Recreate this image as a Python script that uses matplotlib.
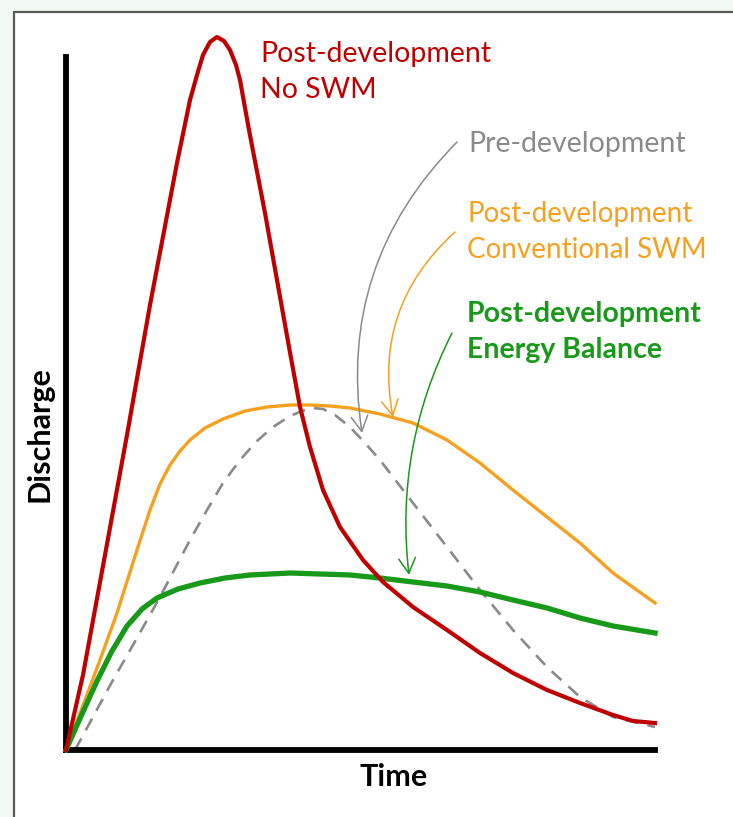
import matplotlib
matplotlib.use("Agg")
import matplotlib.pyplot as plt
from matplotlib.patches import Rectangle

# conceptual hydrograph, arbitrary units
red_t = [0, 17, 39, 61, 84, 111, 124, 131, 137, 144, 151, 158, 164, 170, 174, 183, 199, 211,
         223, 234, 244, 257, 274, 297, 317, 347, 381, 414, 447, 481, 514, 547, 567, 589]
red_q = [0, 75, 195, 315, 445, 587, 650, 675, 695, 708, 713, 709, 700, 685, 670, 620, 537, 470,
         403, 343, 303, 260, 223, 190, 168, 143, 120, 97, 77, 60, 47, 35, 29, 27]

orange_t = [0, 19, 34, 51, 71, 84, 94, 104, 114, 124, 139, 157, 179, 201, 224, 244, 264, 284,
            314, 347, 381, 414, 447, 481, 514, 547, 589]
orange_q = [0, 50, 90, 137, 200, 240, 266, 285, 299, 310, 322, 331, 339, 343, 345, 345, 344, 342,
            336, 327, 310, 287, 260, 233, 207, 177, 147]

green_t = [0, 16, 31, 46, 61, 76, 91, 112, 134, 159, 184, 224, 254, 284, 314, 347, 381, 414,
           447, 481, 514, 547, 589]
green_q = [0, 36, 69, 99, 124, 141, 152, 161, 167, 172, 175, 177, 176, 175, 172, 168, 164, 158,
           150, 142, 132, 124, 117]

pre_t = [9, 28, 47, 71, 94, 124, 141, 157, 174, 191, 207, 224, 236, 247, 257, 269, 284, 299,
         314, 347, 381, 414, 447, 481, 514, 547, 581, 589]
pre_q = [0, 35, 70, 112, 153, 210, 240, 267, 290, 309, 323, 334, 339, 342, 341, 335, 323, 307,
         290, 247, 203, 160, 120, 83, 53, 33, 25, 23]

RED = "#C00000"
ORANGE = "#F5A01E"
GREEN = "#18991A"
GREY = "#8A8A8A"

W, H = 733, 817
fig = plt.figure(figsize=(W / 100, H / 100), dpi=100, facecolor="#F2F8F2")

# white panel with a thin grey frame
fig.patches.append(Rectangle((14 / W, -0.05), 1.2, 1.05 - 12 / H, transform=fig.transFigure,
                             facecolor="white", edgecolor="#5A5A5A", linewidth=1.6, zorder=-5))

ax = fig.add_axes([66 / W, 1 - 750 / H, (655 - 66) / W, (750 - 57) / H])
ax.set_facecolor("none")
ax.set_xlim(0, 589)
ax.set_ylim(0, 693)
for s in ["top", "right"]:
    ax.spines[s].set_visible(False)
for s in ["left", "bottom"]:
    ax.spines[s].set_linewidth(4.2)
    ax.spines[s].set_capstyle("projecting")
ax.set_xticks([])
ax.set_yticks([])

ax.plot(pre_t, pre_q, color=GREY, lw=1.9, dashes=(5, 3.5), clip_on=False, zorder=2)
ax.plot(orange_t, orange_q, color=ORANGE, lw=2.4, clip_on=False, zorder=3, solid_joinstyle="round")
ax.plot(green_t, green_q, color=GREEN, lw=3.8, clip_on=False, zorder=3, solid_joinstyle="round")
ax.plot(red_t, red_q, color=RED, lw=3.0, clip_on=False, zorder=4, solid_joinstyle="round")

font = "Lato"


def px(x, y):
    return x / W, 1 - y / H


# labels
fig.text(*px(260, 62), "Post-development", color=RED, fontsize=20.5, family=font, va="baseline")
fig.text(*px(260, 98), "No SWM", color=RED, fontsize=20.5, family=font, va="baseline")
fig.text(*px(468, 152), "Pre-development", color=GREY, fontsize=20.5, family=font, va="baseline")
fig.text(*px(467, 222), "Post-development", color=ORANGE, fontsize=20, family=font, va="baseline")
fig.text(*px(467, 258), "Conventional SWM", color=ORANGE, fontsize=20, family=font, va="baseline")
fig.text(*px(467, 322), "Post-development", color=GREEN, fontsize=20.5, family=font,
         weight="bold", va="baseline")
fig.text(*px(467, 358), "Energy Balance", color=GREEN, fontsize=20.5, family=font,
         weight="bold", va="baseline")

fig.text(*px(394, 786), "Time", fontsize=22, family=font, weight="bold", ha="center", va="baseline")
fig.text(*px(40, 434), "Discharge", fontsize=22, family=font, weight="bold", rotation=90,
         ha="center", va="center")

# thin curved arrows from the labels to the curves
arrows = [((457, 142), (362, 433), GREY, 0.25),
          ((455, 232), (393, 417), ORANGE, 0.28),
          ((452, 333), (409, 575), GREEN, 0.15)]
for (x0, y0), (x1, y1), c, rad in arrows:
    ax.annotate("", xy=(x1 - 66, 750 - y1), xytext=(x0 - 66, 750 - y0),
                arrowprops=dict(arrowstyle="->,head_length=0.55,head_width=0.3", color=c, lw=1.1,
                                connectionstyle=f"arc3,rad={rad}", shrinkA=0, shrinkB=0,
                                mutation_scale=20),
                annotation_clip=False, zorder=5)

fig.savefig("out.png", dpi=100, facecolor=fig.get_facecolor())
